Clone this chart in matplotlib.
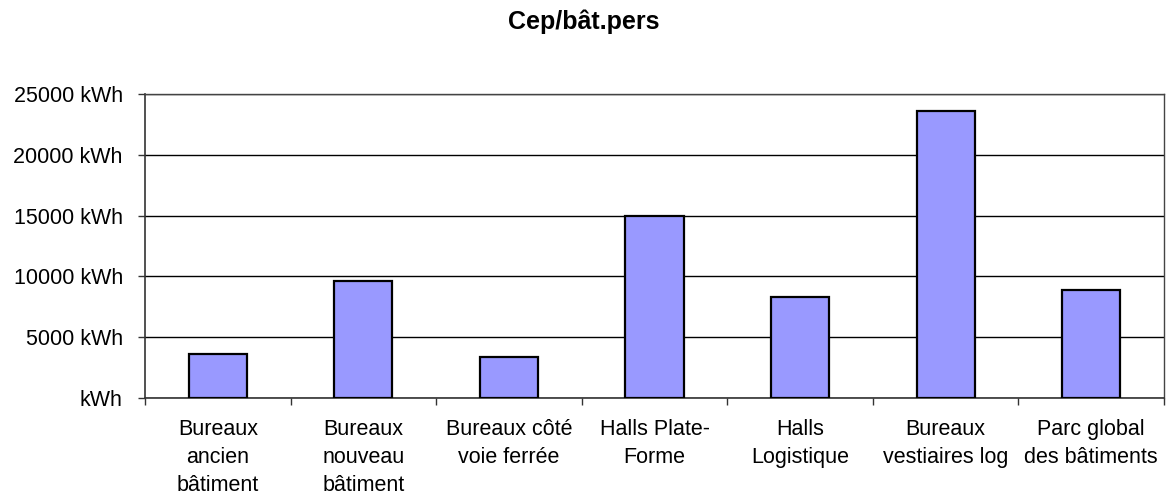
import numpy as np
import matplotlib.pyplot as plt
from matplotlib.ticker import FixedLocator, FuncFormatter

# Données du graphique
categories = [
    "Bureaux\nancien\nbâtiment",
    "Bureaux\nnouveau\nbâtiment",
    "Bureaux côté\nvoie ferrée",
    "Halls Plate-\nForme",
    "Halls\nLogistique",
    "Bureaux\nvestiaires log",
    "Parc global\ndes bâtiments",
]
valeurs = [3600, 9600, 3400, 14950, 8300, 23600, 8900]
graduations = [0, 5000, 10000, 15000, 20000, 25000]

plt.rcParams["font.family"] = ["Liberation Sans", "DejaVu Sans"]

fig = plt.figure(figsize=(11.67, 4.95), dpi=100)
ax = fig.add_axes([145 / 1167, 97 / 495, (1164 - 145) / 1167, (398 - 94) / 495])

x = np.arange(len(categories))
ax.bar(x, valeurs, width=0.4, color="#9999FF", edgecolor="black", linewidth=1.6, zorder=3)

ax.set_xlim(-0.5, len(categories) - 0.5)
ax.set_ylim(0, 25000)

ax.set_yticks(graduations)
ax.yaxis.set_major_formatter(FuncFormatter(lambda v, p: "kWh" if v == 0 else f"{int(v)} kWh"))
ax.grid(True, axis="y", color="black", linewidth=1.0, zorder=1)

ax.set_xticks(x)
ax.set_xticklabels(categories)
ax.xaxis.set_minor_locator(FixedLocator(np.arange(-0.5, len(categories), 1.0)))
ax.tick_params(axis="x", which="major", length=0, pad=15, labelsize=15.5)
ax.tick_params(axis="x", which="minor", length=5, width=1.0, color="#333333")
ax.tick_params(axis="y", length=5, width=1.0, pad=11, labelsize=15.5, color="#333333")

for lbl in ax.get_xticklabels():
    lbl.set_linespacing(1.45)

for side in ["left", "bottom"]:
    ax.spines[side].set_color("#333333")
    ax.spines[side].set_linewidth(1.2)
for side in ["top", "right"]:
    ax.spines[side].set_color("#444444")
    ax.spines[side].set_linewidth(1.0)

fig.text(0.5, 1 - 22 / 495, "Cep/bât.pers", ha="center", va="center",
         fontsize=18, fontweight="bold")

fig.savefig("out.png", dpi=100)
